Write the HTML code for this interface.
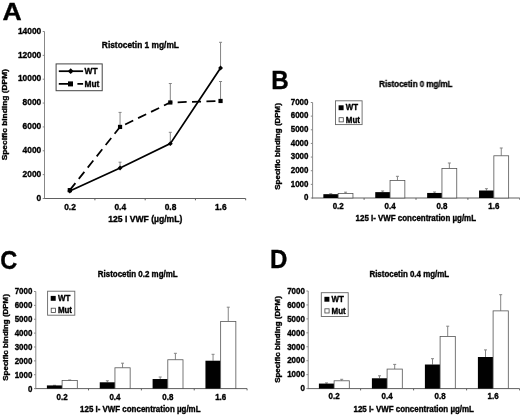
<!DOCTYPE html>
<html><head><meta charset="utf-8"><title>Figure</title>
<style>
html,body{margin:0;padding:0;background:#fff;}
body{width:520px;height:415px;overflow:hidden;}
svg{display:block;will-change:transform;opacity:0.999;font-family:"Liberation Sans",sans-serif;font-weight:bold;fill:#000;}
text{stroke:#000;stroke-width:0.36px;}
</style></head><body>
<svg width="520" height="415" viewBox="0 0 520 415">
<defs><filter id="soft" x="0" y="0" width="520" height="415" filterUnits="userSpaceOnUse" color-interpolation-filters="sRGB"><feGaussianBlur stdDeviation="0.2"/></filter></defs>
<rect width="520" height="415" fill="#fff"/>
<line x1="44.50" y1="31.50" x2="44.50" y2="199.00" stroke="#888" stroke-width="1" />
<line x1="44.00" y1="198.50" x2="245.68" y2="198.50" stroke="#606060" stroke-width="1" />
<line x1="42.70" y1="198.50" x2="44.50" y2="198.50" stroke="#888" stroke-width="1" />
<line x1="42.70" y1="174.64" x2="44.50" y2="174.64" stroke="#888" stroke-width="1" />
<line x1="42.70" y1="150.79" x2="44.50" y2="150.79" stroke="#888" stroke-width="1" />
<line x1="42.70" y1="126.93" x2="44.50" y2="126.93" stroke="#888" stroke-width="1" />
<line x1="42.70" y1="103.07" x2="44.50" y2="103.07" stroke="#888" stroke-width="1" />
<line x1="42.70" y1="79.21" x2="44.50" y2="79.21" stroke="#888" stroke-width="1" />
<line x1="42.70" y1="55.36" x2="44.50" y2="55.36" stroke="#888" stroke-width="1" />
<line x1="42.70" y1="31.50" x2="44.50" y2="31.50" stroke="#888" stroke-width="1" />
<line x1="94.92" y1="198.50" x2="94.92" y2="200.30" stroke="#606060" stroke-width="1" />
<line x1="145.18" y1="198.50" x2="145.18" y2="200.30" stroke="#606060" stroke-width="1" />
<line x1="195.43" y1="198.50" x2="195.43" y2="200.30" stroke="#606060" stroke-width="1" />
<line x1="245.68" y1="198.50" x2="245.68" y2="200.30" stroke="#606060" stroke-width="1" />
<line x1="120.05" y1="162.20" x2="120.05" y2="167.96" stroke="#858585" stroke-width="1" />
<line x1="118.55" y1="162.20" x2="121.55" y2="162.20" stroke="#858585" stroke-width="1" />
<line x1="170.30" y1="132.30" x2="170.30" y2="143.63" stroke="#858585" stroke-width="1" />
<line x1="168.80" y1="132.30" x2="171.80" y2="132.30" stroke="#858585" stroke-width="1" />
<line x1="220.55" y1="42.30" x2="220.55" y2="68.00" stroke="#858585" stroke-width="1" />
<line x1="219.05" y1="42.30" x2="222.05" y2="42.30" stroke="#858585" stroke-width="1" />
<line x1="120.05" y1="112.40" x2="120.05" y2="126.93" stroke="#858585" stroke-width="1" />
<line x1="118.55" y1="112.40" x2="121.55" y2="112.40" stroke="#858585" stroke-width="1" />
<line x1="170.30" y1="83.50" x2="170.30" y2="102.47" stroke="#858585" stroke-width="1" />
<line x1="168.80" y1="83.50" x2="171.80" y2="83.50" stroke="#858585" stroke-width="1" />
<line x1="220.55" y1="81.50" x2="220.55" y2="100.98" stroke="#858585" stroke-width="1" />
<line x1="219.05" y1="81.50" x2="222.05" y2="81.50" stroke="#858585" stroke-width="1" />
<polyline points="69.80,190.99 120.05,167.96 170.30,143.63 220.55,68.00" fill="none" stroke="#000" stroke-width="1.75"/>
<polyline points="69.80,190.15 120.05,126.93 170.30,102.47 220.55,100.98" fill="none" stroke="#000" stroke-width="1.75" stroke-dasharray="9,5.4"/>
<path d="M67.35,190.99 L69.80,188.54 L72.25,190.99 L69.80,193.44Z" fill="#000"/>
<path d="M117.60,167.96 L120.05,165.51 L122.50,167.96 L120.05,170.41Z" fill="#000"/>
<path d="M167.85,143.63 L170.30,141.18 L172.75,143.63 L170.30,146.08Z" fill="#000"/>
<path d="M218.10,68.00 L220.55,65.55 L223.00,68.00 L220.55,70.45Z" fill="#000"/>
<rect x="67.70" y="188.05" width="4.2" height="4.2" fill="#000"/>
<rect x="117.95" y="124.83" width="4.2" height="4.2" fill="#000"/>
<rect x="168.20" y="100.38" width="4.2" height="4.2" fill="#000"/>
<rect x="218.45" y="98.88" width="4.2" height="4.2" fill="#000"/>
<rect x="56.1" y="63.9" width="46.1" height="26.800000000000004" fill="#fff" stroke="#444" stroke-width="1"/>
<line x1="58.80" y1="71.20" x2="83.10" y2="71.20" stroke="#000" stroke-width="1.75" />
<path d="M67.8,71.2 L70.7,68.3 L73.60000000000001,71.2 L70.7,74.10000000000001Z" fill="#000"/>
<line x1="58.80" y1="83.90" x2="83.10" y2="83.90" stroke="#000" stroke-width="1.75" stroke-dasharray="10,8.6,5.7,100"/>
<rect x="68.0" y="81.4" width="5.0" height="5.0" fill="#000"/>
<line x1="312.60" y1="102.50" x2="312.60" y2="198.50" stroke="#888" stroke-width="1" />
<line x1="312.10" y1="198.00" x2="519.80" y2="198.00" stroke="#606060" stroke-width="1" />
<line x1="310.80" y1="198.00" x2="312.60" y2="198.00" stroke="#888" stroke-width="1" />
<line x1="310.80" y1="184.36" x2="312.60" y2="184.36" stroke="#888" stroke-width="1" />
<line x1="310.80" y1="170.71" x2="312.60" y2="170.71" stroke="#888" stroke-width="1" />
<line x1="310.80" y1="157.07" x2="312.60" y2="157.07" stroke="#888" stroke-width="1" />
<line x1="310.80" y1="143.43" x2="312.60" y2="143.43" stroke="#888" stroke-width="1" />
<line x1="310.80" y1="129.79" x2="312.60" y2="129.79" stroke="#888" stroke-width="1" />
<line x1="310.80" y1="116.14" x2="312.60" y2="116.14" stroke="#888" stroke-width="1" />
<line x1="310.80" y1="102.50" x2="312.60" y2="102.50" stroke="#888" stroke-width="1" />
<line x1="364.10" y1="198.00" x2="364.10" y2="199.80" stroke="#606060" stroke-width="1" />
<line x1="416.00" y1="198.00" x2="416.00" y2="199.80" stroke="#606060" stroke-width="1" />
<line x1="467.90" y1="198.00" x2="467.90" y2="199.80" stroke="#606060" stroke-width="1" />
<line x1="519.80" y1="198.00" x2="519.80" y2="199.80" stroke="#606060" stroke-width="1" />
<line x1="330.75" y1="193.70" x2="330.75" y2="194.18" stroke="#858585" stroke-width="1" />
<line x1="329.25" y1="193.70" x2="332.25" y2="193.70" stroke="#858585" stroke-width="1" />
<line x1="345.55" y1="192.20" x2="345.55" y2="193.50" stroke="#858585" stroke-width="1" />
<line x1="344.05" y1="192.20" x2="347.05" y2="192.20" stroke="#858585" stroke-width="1" />
<rect x="323.35" y="194.18" width="14.80" height="3.82" fill="#000"/>
<rect x="338.15" y="193.50" width="14.80" height="4.50" fill="#fff" stroke="#555" stroke-width="0.8"/>
<line x1="382.65" y1="191.00" x2="382.65" y2="192.13" stroke="#858585" stroke-width="1" />
<line x1="381.15" y1="191.00" x2="384.15" y2="191.00" stroke="#858585" stroke-width="1" />
<line x1="397.45" y1="176.30" x2="397.45" y2="180.40" stroke="#858585" stroke-width="1" />
<line x1="395.95" y1="176.30" x2="398.95" y2="176.30" stroke="#858585" stroke-width="1" />
<rect x="375.25" y="192.13" width="14.80" height="5.87" fill="#000"/>
<rect x="390.05" y="180.40" width="14.80" height="17.60" fill="#fff" stroke="#555" stroke-width="0.8"/>
<line x1="434.55" y1="192.00" x2="434.55" y2="192.95" stroke="#858585" stroke-width="1" />
<line x1="433.05" y1="192.00" x2="436.05" y2="192.00" stroke="#858585" stroke-width="1" />
<line x1="449.35" y1="163.00" x2="449.35" y2="168.53" stroke="#858585" stroke-width="1" />
<line x1="447.85" y1="163.00" x2="450.85" y2="163.00" stroke="#858585" stroke-width="1" />
<rect x="427.15" y="192.95" width="14.80" height="5.05" fill="#000"/>
<rect x="441.95" y="168.53" width="14.80" height="29.47" fill="#fff" stroke="#555" stroke-width="0.8"/>
<line x1="486.45" y1="188.70" x2="486.45" y2="190.50" stroke="#858585" stroke-width="1" />
<line x1="484.95" y1="188.70" x2="487.95" y2="188.70" stroke="#858585" stroke-width="1" />
<line x1="501.25" y1="148.00" x2="501.25" y2="155.78" stroke="#858585" stroke-width="1" />
<line x1="499.75" y1="148.00" x2="502.75" y2="148.00" stroke="#858585" stroke-width="1" />
<rect x="479.05" y="190.50" width="14.80" height="7.50" fill="#000"/>
<rect x="493.85" y="155.78" width="14.80" height="42.22" fill="#fff" stroke="#555" stroke-width="0.8"/>
<rect x="335.5" y="100.8" width="26.600000000000023" height="23.799999999999997" fill="#fff" stroke="#666" stroke-width="0.9"/>
<rect x="338.60" y="105.30" width="5.0" height="4.9" fill="#000"/>
<rect x="339.10" y="117.70" width="4.2" height="4.2" fill="#fff" stroke="#444" stroke-width="0.8"/>
<line x1="35.80" y1="291.50" x2="35.80" y2="389.10" stroke="#888" stroke-width="1" />
<line x1="35.30" y1="388.60" x2="247.07" y2="388.60" stroke="#606060" stroke-width="1" />
<line x1="34.00" y1="388.60" x2="35.80" y2="388.60" stroke="#888" stroke-width="1" />
<line x1="34.00" y1="374.73" x2="35.80" y2="374.73" stroke="#888" stroke-width="1" />
<line x1="34.00" y1="360.86" x2="35.80" y2="360.86" stroke="#888" stroke-width="1" />
<line x1="34.00" y1="346.99" x2="35.80" y2="346.99" stroke="#888" stroke-width="1" />
<line x1="34.00" y1="333.11" x2="35.80" y2="333.11" stroke="#888" stroke-width="1" />
<line x1="34.00" y1="319.24" x2="35.80" y2="319.24" stroke="#888" stroke-width="1" />
<line x1="34.00" y1="305.37" x2="35.80" y2="305.37" stroke="#888" stroke-width="1" />
<line x1="34.00" y1="291.50" x2="35.80" y2="291.50" stroke="#888" stroke-width="1" />
<line x1="88.53" y1="388.60" x2="88.53" y2="390.40" stroke="#606060" stroke-width="1" />
<line x1="141.38" y1="388.60" x2="141.38" y2="390.40" stroke="#606060" stroke-width="1" />
<line x1="194.22" y1="388.60" x2="194.22" y2="390.40" stroke="#606060" stroke-width="1" />
<line x1="247.07" y1="388.60" x2="247.07" y2="390.40" stroke="#606060" stroke-width="1" />
<line x1="54.50" y1="385.30" x2="54.50" y2="385.41" stroke="#858585" stroke-width="1" />
<line x1="53.00" y1="385.30" x2="56.00" y2="385.30" stroke="#858585" stroke-width="1" />
<line x1="69.70" y1="380.00" x2="69.70" y2="380.49" stroke="#858585" stroke-width="1" />
<line x1="68.20" y1="380.00" x2="71.20" y2="380.00" stroke="#858585" stroke-width="1" />
<rect x="46.90" y="385.41" width="15.20" height="3.19" fill="#000"/>
<rect x="62.10" y="380.49" width="15.20" height="8.11" fill="#fff" stroke="#555" stroke-width="0.8"/>
<line x1="107.35" y1="380.80" x2="107.35" y2="382.29" stroke="#858585" stroke-width="1" />
<line x1="105.85" y1="380.80" x2="108.85" y2="380.80" stroke="#858585" stroke-width="1" />
<line x1="122.55" y1="363.20" x2="122.55" y2="367.79" stroke="#858585" stroke-width="1" />
<line x1="121.05" y1="363.20" x2="124.05" y2="363.20" stroke="#858585" stroke-width="1" />
<rect x="99.75" y="382.29" width="15.20" height="6.31" fill="#000"/>
<rect x="114.95" y="367.79" width="15.20" height="20.81" fill="#fff" stroke="#555" stroke-width="0.8"/>
<line x1="160.20" y1="377.00" x2="160.20" y2="379.03" stroke="#858585" stroke-width="1" />
<line x1="158.70" y1="377.00" x2="161.70" y2="377.00" stroke="#858585" stroke-width="1" />
<line x1="175.40" y1="353.30" x2="175.40" y2="359.75" stroke="#858585" stroke-width="1" />
<line x1="173.90" y1="353.30" x2="176.90" y2="353.30" stroke="#858585" stroke-width="1" />
<rect x="152.60" y="379.03" width="15.20" height="9.57" fill="#000"/>
<rect x="167.80" y="359.75" width="15.20" height="28.85" fill="#fff" stroke="#555" stroke-width="0.8"/>
<line x1="213.05" y1="354.30" x2="213.05" y2="360.72" stroke="#858585" stroke-width="1" />
<line x1="211.55" y1="354.30" x2="214.55" y2="354.30" stroke="#858585" stroke-width="1" />
<line x1="228.25" y1="307.20" x2="228.25" y2="321.39" stroke="#858585" stroke-width="1" />
<line x1="226.75" y1="307.20" x2="229.75" y2="307.20" stroke="#858585" stroke-width="1" />
<rect x="205.45" y="360.72" width="15.20" height="27.88" fill="#000"/>
<rect x="220.65" y="321.39" width="15.20" height="67.21" fill="#fff" stroke="#555" stroke-width="0.8"/>
<rect x="47.6" y="291.2" width="27.199999999999996" height="24.0" fill="#fff" stroke="#666" stroke-width="0.9"/>
<rect x="50.70" y="295.90" width="5.0" height="4.9" fill="#000"/>
<rect x="51.20" y="308.20" width="4.2" height="4.2" fill="#fff" stroke="#444" stroke-width="0.8"/>
<line x1="308.20" y1="291.00" x2="308.20" y2="389.10" stroke="#888" stroke-width="1" />
<line x1="307.70" y1="388.60" x2="519.60" y2="388.60" stroke="#606060" stroke-width="1" />
<line x1="306.40" y1="388.60" x2="308.20" y2="388.60" stroke="#888" stroke-width="1" />
<line x1="306.40" y1="374.66" x2="308.20" y2="374.66" stroke="#888" stroke-width="1" />
<line x1="306.40" y1="360.71" x2="308.20" y2="360.71" stroke="#888" stroke-width="1" />
<line x1="306.40" y1="346.77" x2="308.20" y2="346.77" stroke="#888" stroke-width="1" />
<line x1="306.40" y1="332.83" x2="308.20" y2="332.83" stroke="#888" stroke-width="1" />
<line x1="306.40" y1="318.89" x2="308.20" y2="318.89" stroke="#888" stroke-width="1" />
<line x1="306.40" y1="304.94" x2="308.20" y2="304.94" stroke="#888" stroke-width="1" />
<line x1="306.40" y1="291.00" x2="308.20" y2="291.00" stroke="#888" stroke-width="1" />
<line x1="360.60" y1="388.60" x2="360.60" y2="390.40" stroke="#606060" stroke-width="1" />
<line x1="413.60" y1="388.60" x2="413.60" y2="390.40" stroke="#606060" stroke-width="1" />
<line x1="466.60" y1="388.60" x2="466.60" y2="390.40" stroke="#606060" stroke-width="1" />
<line x1="519.60" y1="388.60" x2="519.60" y2="390.40" stroke="#606060" stroke-width="1" />
<line x1="326.50" y1="382.90" x2="326.50" y2="383.58" stroke="#858585" stroke-width="1" />
<line x1="325.00" y1="382.90" x2="328.00" y2="382.90" stroke="#858585" stroke-width="1" />
<line x1="341.70" y1="379.30" x2="341.70" y2="380.79" stroke="#858585" stroke-width="1" />
<line x1="340.20" y1="379.30" x2="343.20" y2="379.30" stroke="#858585" stroke-width="1" />
<rect x="318.90" y="383.58" width="15.20" height="5.02" fill="#000"/>
<rect x="334.10" y="380.79" width="15.20" height="7.81" fill="#fff" stroke="#555" stroke-width="0.8"/>
<line x1="379.50" y1="375.80" x2="379.50" y2="378.28" stroke="#858585" stroke-width="1" />
<line x1="378.00" y1="375.80" x2="381.00" y2="375.80" stroke="#858585" stroke-width="1" />
<line x1="394.70" y1="364.40" x2="394.70" y2="369.08" stroke="#858585" stroke-width="1" />
<line x1="393.20" y1="364.40" x2="396.20" y2="364.40" stroke="#858585" stroke-width="1" />
<rect x="371.90" y="378.28" width="15.20" height="10.32" fill="#000"/>
<rect x="387.10" y="369.08" width="15.20" height="19.52" fill="#fff" stroke="#555" stroke-width="0.8"/>
<line x1="432.50" y1="358.70" x2="432.50" y2="364.52" stroke="#858585" stroke-width="1" />
<line x1="431.00" y1="358.70" x2="434.00" y2="358.70" stroke="#858585" stroke-width="1" />
<line x1="447.70" y1="326.20" x2="447.70" y2="336.45" stroke="#858585" stroke-width="1" />
<line x1="446.20" y1="326.20" x2="449.20" y2="326.20" stroke="#858585" stroke-width="1" />
<rect x="424.90" y="364.52" width="15.20" height="24.08" fill="#000"/>
<rect x="440.10" y="336.45" width="15.20" height="52.15" fill="#fff" stroke="#555" stroke-width="0.8"/>
<line x1="485.50" y1="349.90" x2="485.50" y2="357.01" stroke="#858585" stroke-width="1" />
<line x1="484.00" y1="349.90" x2="487.00" y2="349.90" stroke="#858585" stroke-width="1" />
<line x1="500.70" y1="294.70" x2="500.70" y2="310.87" stroke="#858585" stroke-width="1" />
<line x1="499.20" y1="294.70" x2="502.20" y2="294.70" stroke="#858585" stroke-width="1" />
<rect x="477.90" y="357.01" width="15.20" height="31.59" fill="#000"/>
<rect x="493.10" y="310.87" width="15.20" height="77.73" fill="#fff" stroke="#555" stroke-width="0.8"/>
<rect x="321.3" y="292.7" width="26.899999999999977" height="23.80000000000001" fill="#fff" stroke="#666" stroke-width="0.9"/>
<rect x="324.40" y="296.80" width="5.0" height="4.9" fill="#000"/>
<rect x="324.90" y="308.80" width="4.2" height="4.2" fill="#fff" stroke="#444" stroke-width="0.8"/>
<g filter="url(#soft)">
<text transform="translate(2.40,19.80) scale(1.08,1)" font-size="24.6" text-anchor="start">A</text>
<text transform="translate(41.20,200.70) scale(0.94,1)" font-size="8.9" text-anchor="end" >0</text>
<text transform="translate(41.20,176.85) scale(0.94,1)" font-size="8.9" text-anchor="end" >2000</text>
<text transform="translate(41.20,152.99) scale(0.94,1)" font-size="8.9" text-anchor="end" >4000</text>
<text transform="translate(41.20,129.13) scale(0.94,1)" font-size="8.9" text-anchor="end" >6000</text>
<text transform="translate(41.20,105.28) scale(0.94,1)" font-size="8.9" text-anchor="end" >8000</text>
<text transform="translate(41.20,81.42) scale(0.94,1)" font-size="8.9" text-anchor="end" >10000</text>
<text transform="translate(41.20,57.56) scale(0.94,1)" font-size="8.9" text-anchor="end" >12000</text>
<text transform="translate(41.20,33.70) scale(0.94,1)" font-size="8.9" text-anchor="end" >14000</text>
<text transform="translate(70.00,209.90) scale(0.94,1)" font-size="8.9" text-anchor="middle" >0.2</text>
<text transform="translate(120.25,209.90) scale(0.94,1)" font-size="8.9" text-anchor="middle" >0.4</text>
<text transform="translate(170.50,209.90) scale(0.94,1)" font-size="8.9" text-anchor="middle" >0.8</text>
<text transform="translate(220.75,209.90) scale(0.94,1)" font-size="8.9" text-anchor="middle" >1.6</text>
<text transform="translate(140.40,48.00) scale(0.94,1)" font-size="8.9" text-anchor="middle" >Ristocetin 1 mg/mL</text>
<text transform="translate(145.30,221.60) scale(0.94,1)" font-size="9.15" text-anchor="middle" >125 I VWF (µg/mL)</text>
<text transform="translate(7.20,114.70) rotate(-90) scale(1.063,1)" font-size="7.90" text-anchor="middle">Specific binding (DPM)</text>
<text transform="translate(84.50,74.06) scale(0.94,1)" font-size="8.9" text-anchor="start" >WT</text>
<text transform="translate(84.50,86.96) scale(0.94,1)" font-size="8.9" text-anchor="start" >Mut</text>
<text transform="translate(271.20,89.40) scale(0.96,1)" font-size="25.2" text-anchor="start">B</text>
<text transform="translate(308.40,200.14) scale(0.94,1)" font-size="8.45" text-anchor="end" >0</text>
<text transform="translate(308.40,186.50) scale(0.94,1)" font-size="8.45" text-anchor="end" >1000</text>
<text transform="translate(308.40,172.86) scale(0.94,1)" font-size="8.45" text-anchor="end" >2000</text>
<text transform="translate(308.40,159.21) scale(0.94,1)" font-size="8.45" text-anchor="end" >3000</text>
<text transform="translate(308.40,145.57) scale(0.94,1)" font-size="8.45" text-anchor="end" >4000</text>
<text transform="translate(308.40,131.93) scale(0.94,1)" font-size="8.45" text-anchor="end" >5000</text>
<text transform="translate(308.40,118.28) scale(0.94,1)" font-size="8.45" text-anchor="end" >6000</text>
<text transform="translate(308.40,104.64) scale(0.94,1)" font-size="8.45" text-anchor="end" >7000</text>
<text transform="translate(338.15,208.74) scale(0.94,1)" font-size="8.45" text-anchor="middle" >0.2</text>
<text transform="translate(390.05,208.74) scale(0.94,1)" font-size="8.45" text-anchor="middle" >0.4</text>
<text transform="translate(441.95,208.74) scale(0.94,1)" font-size="8.45" text-anchor="middle" >0.8</text>
<text transform="translate(493.85,208.74) scale(0.94,1)" font-size="8.45" text-anchor="middle" >1.6</text>
<text transform="translate(415.80,86.94) scale(0.94,1)" font-size="8.45" text-anchor="middle" >Ristocetin 0 mg/mL</text>
<text transform="translate(415.80,220.64) scale(0.94,1)" font-size="8.45" text-anchor="middle" >125 I- VWF concentration µg/mL</text>
<text transform="translate(279.50,146.40) rotate(-90) scale(1.063,1)" font-size="7.50" text-anchor="middle">Specific binding (DPM)</text>
<text transform="translate(345.80,110.24) scale(0.94,1)" font-size="8.45" text-anchor="start" >WT</text>
<text transform="translate(345.80,122.84) scale(0.94,1)" font-size="8.45" text-anchor="start" >Mut</text>
<text transform="translate(0.30,269.30) scale(0.925,1)" font-size="25.4" text-anchor="start">C</text>
<text transform="translate(32.30,391.54) scale(0.94,1)" font-size="8.45" text-anchor="end" >0</text>
<text transform="translate(32.30,377.67) scale(0.94,1)" font-size="8.45" text-anchor="end" >1000</text>
<text transform="translate(32.30,363.80) scale(0.94,1)" font-size="8.45" text-anchor="end" >2000</text>
<text transform="translate(32.30,349.93) scale(0.94,1)" font-size="8.45" text-anchor="end" >3000</text>
<text transform="translate(32.30,336.06) scale(0.94,1)" font-size="8.45" text-anchor="end" >4000</text>
<text transform="translate(32.30,322.18) scale(0.94,1)" font-size="8.45" text-anchor="end" >5000</text>
<text transform="translate(32.30,308.31) scale(0.94,1)" font-size="8.45" text-anchor="end" >6000</text>
<text transform="translate(32.30,294.44) scale(0.94,1)" font-size="8.45" text-anchor="end" >7000</text>
<text transform="translate(62.10,399.74) scale(0.94,1)" font-size="8.45" text-anchor="middle" >0.2</text>
<text transform="translate(114.95,399.74) scale(0.94,1)" font-size="8.45" text-anchor="middle" >0.4</text>
<text transform="translate(167.80,399.74) scale(0.94,1)" font-size="8.45" text-anchor="middle" >0.8</text>
<text transform="translate(220.65,399.74) scale(0.94,1)" font-size="8.45" text-anchor="middle" >1.6</text>
<text transform="translate(137.70,277.14) scale(0.94,1)" font-size="8.45" text-anchor="middle" >Ristocetin 0.2 mg/mL</text>
<text transform="translate(140.30,412.04) scale(0.94,1)" font-size="8.45" text-anchor="middle" >125 I- VWF concentration µg/mL</text>
<text transform="translate(7.60,337.40) rotate(-90) scale(1.063,1)" font-size="7.50" text-anchor="middle">Specific binding (DPM)</text>
<text transform="translate(57.90,300.84) scale(0.94,1)" font-size="8.45" text-anchor="start" >WT</text>
<text transform="translate(57.90,313.34) scale(0.94,1)" font-size="8.45" text-anchor="start" >Mut</text>
<text transform="translate(270.10,267.60) scale(0.95,1)" font-size="25.4" text-anchor="start">D</text>
<text transform="translate(304.80,391.34) scale(0.94,1)" font-size="8.45" text-anchor="end" >0</text>
<text transform="translate(304.80,377.40) scale(0.94,1)" font-size="8.45" text-anchor="end" >1000</text>
<text transform="translate(304.80,363.46) scale(0.94,1)" font-size="8.45" text-anchor="end" >2000</text>
<text transform="translate(304.80,349.51) scale(0.94,1)" font-size="8.45" text-anchor="end" >3000</text>
<text transform="translate(304.80,335.57) scale(0.94,1)" font-size="8.45" text-anchor="end" >4000</text>
<text transform="translate(304.80,321.63) scale(0.94,1)" font-size="8.45" text-anchor="end" >5000</text>
<text transform="translate(304.80,307.68) scale(0.94,1)" font-size="8.45" text-anchor="end" >6000</text>
<text transform="translate(304.80,293.74) scale(0.94,1)" font-size="8.45" text-anchor="end" >7000</text>
<text transform="translate(334.10,399.24) scale(0.94,1)" font-size="8.45" text-anchor="middle" >0.2</text>
<text transform="translate(387.10,399.24) scale(0.94,1)" font-size="8.45" text-anchor="middle" >0.4</text>
<text transform="translate(440.10,399.24) scale(0.94,1)" font-size="8.45" text-anchor="middle" >0.8</text>
<text transform="translate(493.10,399.24) scale(0.94,1)" font-size="8.45" text-anchor="middle" >1.6</text>
<text transform="translate(409.30,276.99) scale(0.94,1)" font-size="8.45" text-anchor="middle" >Ristocetin 0.4 mg/mL</text>
<text transform="translate(413.70,411.64) scale(0.94,1)" font-size="8.45" text-anchor="middle" >125 I- VWF concentration µg/mL</text>
<text transform="translate(279.50,339.50) rotate(-90) scale(1.063,1)" font-size="7.50" text-anchor="middle">Specific binding (DPM)</text>
<text transform="translate(331.60,301.74) scale(0.94,1)" font-size="8.45" text-anchor="start" >WT</text>
<text transform="translate(331.60,313.94) scale(0.94,1)" font-size="8.45" text-anchor="start" >Mut</text>
</g>
</svg>
</body></html>
